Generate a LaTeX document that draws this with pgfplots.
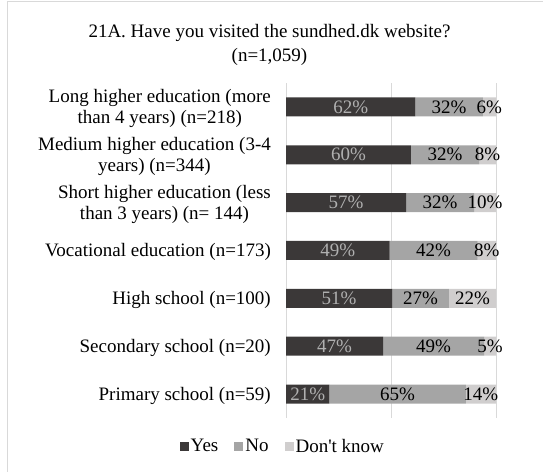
\documentclass[border=0pt]{standalone}
\usepackage{pgfplots}
\pgfplotsset{compat=1.18}
\usepackage{pgfplotstable}
\usepackage{fontspec}
\setmainfont{Liberation Serif}
\definecolor{cyes}{HTML}{3B3838}
\definecolor{cno}{HTML}{A5A5A5}
\definecolor{cdk}{HTML}{D0CECE}
\definecolor{cgrid}{HTML}{D9D9D9}
\definecolor{cylab}{HTML}{B0B0B0}
\pgfplotstableread{
y yes no dk lyes lno ldk
6 61.6 32.1 6.3 62 32 6
5 59.5 32.4 8.1 60 32 8
4 57.2 32.4 10.4 57 32 10
3 49.3 42.0 8.7 49 42 8
2 50.6 27.0 22.4 51 27 22
1 46.3 48.0 5.7 47 49 5
0 20.7 64.9 14.4 21 65 14
}\datatable
\newcommand{\fs}{\fontsize{19bp}{21bp}\selectfont}
\begin{document}
\begin{tikzpicture}[x=1bp,y=1bp]
\useasboundingbox (0,0) rectangle (543,472);
\draw[cgrid, line width=1.2bp] (7.5,0) -- (7.5,470.5) -- (543,470.5);
\node[anchor=base, font=\fs] at (269.5,434) {21A. Have you visited the sundhed.dk website?};
\node[anchor=base, font=\fs] at (269.5,410) {(n=1,059)};
\begin{axis}[
  at={(286bp,54bp)}, anchor=south west,
  scale only axis, width=210bp, height=335bp,
  xmin=0, xmax=100, ymin=-0.5, ymax=6.5,
  xbar stacked, bar width=19bp,
  axis line style={draw=none},
  xtick={0,50,100}, xticklabels={},
  xmajorgrids, grid style={cgrid, line width=0.8bp},
  major tick length=0pt,
  ytick={0,1,2,3,4,5,6},
  yticklabels={{Primary school (n=59)},{Secondary school (n=20)},{High school (n=100)},{Vocational education (n=173)},{Short higher education (less\\than 3 years) (n= 144)},{Medium higher education (3-4\\years) (n=344)},{Long higher education (more\\than 4 years) (n=218)}},
  yticklabel style={font=\fs, align=center, inner sep=0pt, xshift=-15bp, yshift=-1.5bp},
  point meta=explicit symbolic,
  nodes near coords={\pgfplotspointmeta\%},
  nodes near coords align={center},
  every node near coord/.append style={font=\fs, anchor=center},
  legend columns=3,
  legend style={at={(-0.015,-0.085)}, anchor=center, draw=none, fill=none, font=\fs,
    /tikz/every even column/.append style={column sep=14bp}},
  legend image code/.code={\fill[#1] (0bp,-4.5bp) rectangle (9bp,4.5bp);},
]
\addplot[fill=cyes, draw=none, every node near coord/.append style={text=cylab}] table[x=yes, y=y, meta=lyes] {\datatable};
\addplot[fill=cno, draw=none] table[x=no, y=y, meta=lno] {\datatable};
\addplot[fill=cdk, draw=none] table[x=dk, y=y, meta=ldk] {\datatable};
\legend{Yes, No, Don\textquotesingle t know}
\end{axis}
\end{tikzpicture}
\end{document}
